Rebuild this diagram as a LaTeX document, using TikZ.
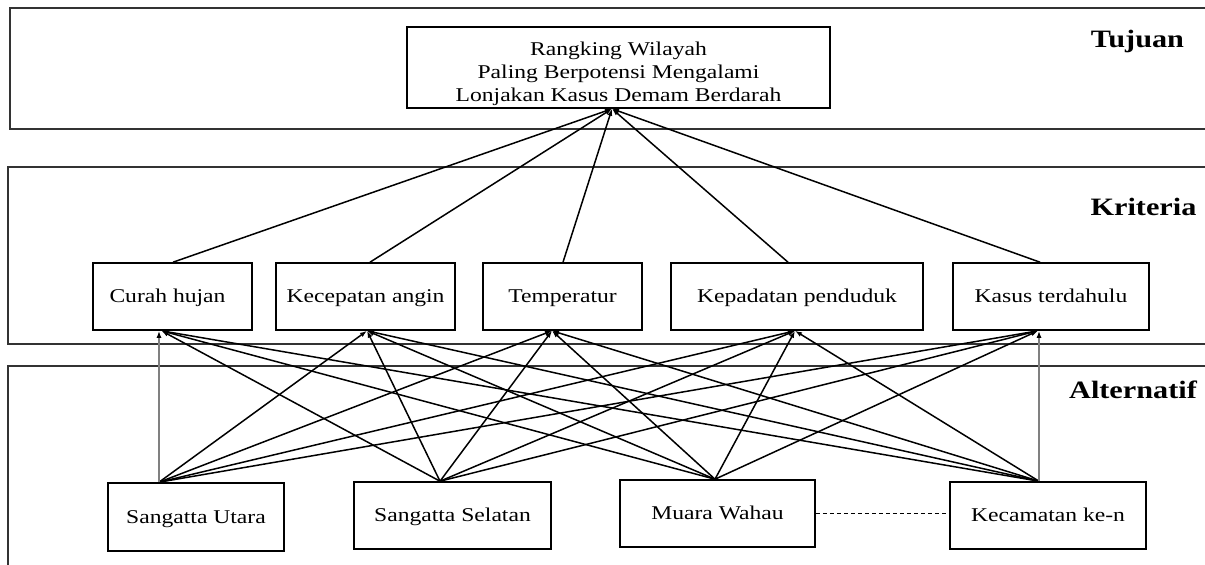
\documentclass[tikz,border=0pt]{standalone}
\usepackage{fontspec}
\setmainfont{Liberation Serif}
\usetikzlibrary{arrows.meta}

% text set a little wider than its natural shape
\newcommand{\widetext}[1]{\scalebox{1.21}[1]{#1}}

\begin{document}
\begin{tikzpicture}[x=1pt, y=-1pt,
  band/.style={draw=black!80, line width=2pt},
  box/.style={draw=black, line width=1.6pt, rectangle, inner sep=0pt,
    font=\fontsize{19.5}{23}\selectfont},
  oneline/.style={box, text height=15pt, text depth=3pt},
  critbox/.style={oneline, minimum height=67pt},
  altbox/.style={oneline, minimum height=67pt},
  level/.style={font=\fontsize{25}{28}\selectfont\bfseries, anchor=base, inner sep=0pt},
  link/.style={line width=1.5pt, -{Latex[length=7pt,width=5pt]}},
  upright/.style={draw=black!50, line width=2.8pt, -{Latex[length=7pt,width=5pt,color=black]}},
  ellipsis/.style={line width=1.1pt, dash pattern=on 4pt off 3pt},
]
\useasboundingbox (0,0) rectangle (1205,565);

% the three levels of the hierarchy
\draw[band] (1230,8)   -- (10,8)   -- (10,129) -- (1230,129);
\draw[band] (1230,167) -- (8,167)  -- (8,344)  -- (1230,344);
\draw[band] (1230,366) -- (8,366)  -- (8,590);

\node[level] (lvgoal) at (1137.5,47) {\widetext{Tujuan}};
\node[level] (lvcrit) at (1143.5,215) {\widetext{Kriteria}};
\node[level] (lvalt)  at (1133,398) {\widetext{Alternatif}};

% goal
\node[box, minimum width=423pt, minimum height=81pt, text height=22pt, text depth=47pt]
  (goal) at (618.5,67.5)
  {\widetext{\begin{tabular}[t]{@{}c@{}}Rangking Wilayah\\Paling Berpotensi Mengalami\\Lonjakan Kasus Demam Berdarah\end{tabular}}};

% criteria
\node[critbox, minimum width=159pt] (c1) at (172.5,296.5) {\widetext{Curah hujan}\hspace*{10pt}};
\node[critbox, minimum width=179pt] (c2) at (365.5,296.5) {\widetext{Kecepatan angin}};
\node[critbox, minimum width=159pt] (c3) at (562.5,296.5) {\widetext{Temperatur}};
\node[critbox, minimum width=252pt] (c4) at (797,296.5)   {\widetext{Kepadatan penduduk}};
\node[critbox, minimum width=196pt] (c5) at (1051,296.5)  {\widetext{Kasus terdahulu}};

% alternatives
\node[altbox, minimum width=176pt, minimum height=68pt] (a1) at (196,517) {\widetext{Sangatta Utara}};
\node[altbox, minimum width=197pt] (a2) at (452.5,515.5) {\widetext{Sangatta Selatan}};
\node[altbox, minimum width=195pt] (a3) at (717.5,513.5) {\widetext{Muara Wahau}};
\node[altbox, minimum width=196pt] (a4) at (1048,515.5)  {\widetext{Kecamatan ke-n}};

\draw[ellipsis] (a3.east) -- (a3.east -| a4.west);

% criteria -> goal
\foreach \j/\co in {1/0.5, 2/4.5, 3/0.5, 4/-9, 5/-11}
  \draw[link] ([xshift=\co pt]c\j.north) -- ([xshift=-6.5pt]goal.south);

% alternatives -> criteria
\foreach \i/\ao in {1/-37, 2/-12.5, 3/-2.5, 4/-9}{
  \foreach \j/\co in {1/-11, 2/1.5, 3/-10.5, 4/-2, 5/-13}{
    \pgfmathtruncatemacro\straight{(\i==1 && \j==1) || (\i==4 && \j==5)}
    \ifnum\straight=0
      \draw[link] ([xshift=\ao pt]a\i.north) -- ([xshift=\co pt]c\j.south);
    \fi
  }
}
\draw[upright] ([xshift=-37pt]a1.north) -- ([xshift=-13.5pt]c1.south);
\draw[upright] ([xshift=-9pt]a4.north) -- ([xshift=-12pt]c5.south);
\end{tikzpicture}
\end{document}
